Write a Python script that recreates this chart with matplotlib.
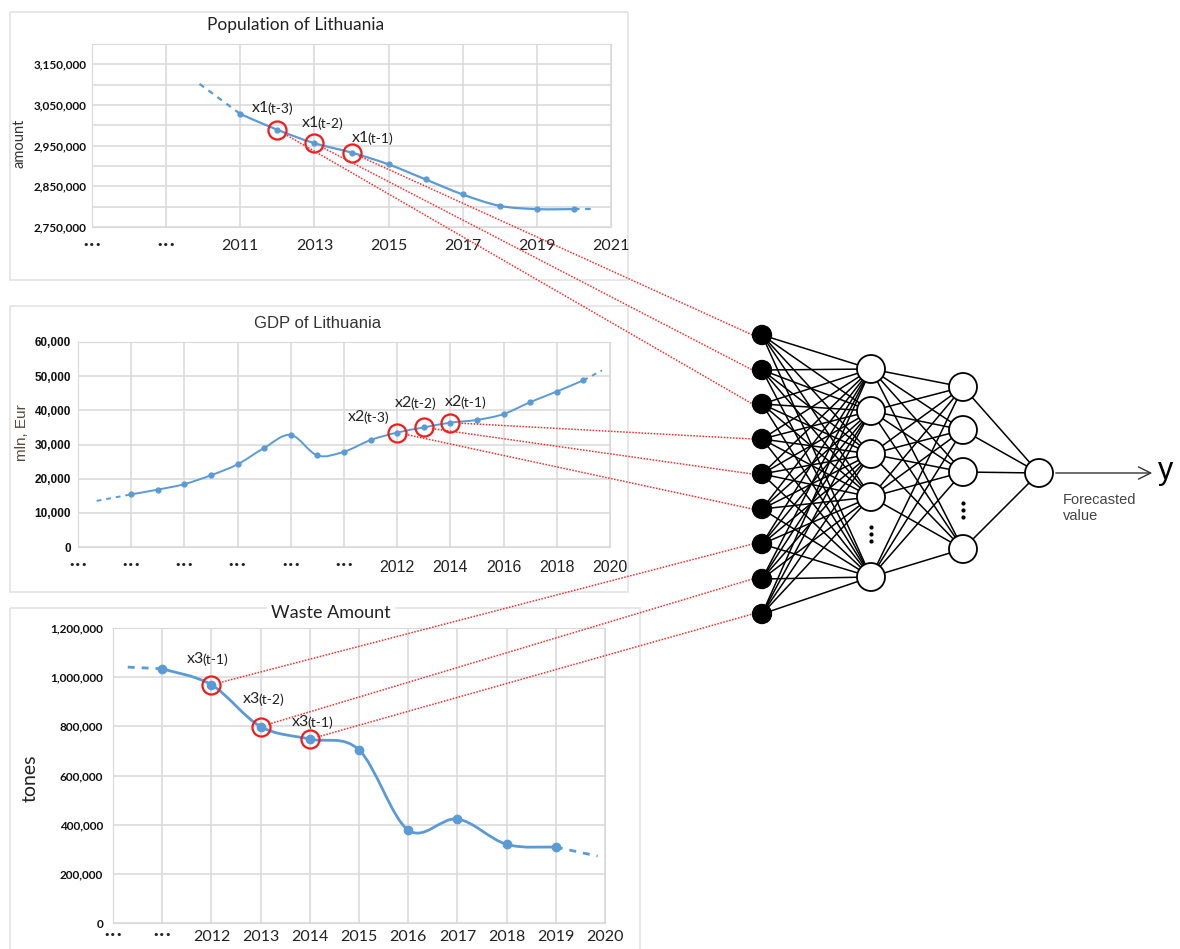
import numpy as np
import matplotlib
matplotlib.use("Agg")
import matplotlib.pyplot as plt
from matplotlib.path import Path
from matplotlib.patches import PathPatch, Circle, Rectangle

W, H = 1180, 949
BLUE = "#5b9bd5"
GRID = "#d9d9d9"

# ---- data ----
pop_years = [2011, 2012, 2013, 2014, 2015, 2016, 2017, 2018, 2019, 2020]
pop_vals = [3028000, 2989000, 2956000, 2933000, 2904000, 2867000, 2830000, 2802000, 2794000, 2794000]
pop_head = (2009.9, 3102000)
pop_tail = (2020.6, 2794000)

gdp_years = list(range(2002, 2020))
gdp_vals = [15400, 16800, 18400, 21000, 24200, 29000, 32800, 26800, 27900, 31300,
            33500, 35000, 36400, 37200, 38900, 42400, 45500, 48800]
gdp_head = (2000.7, 13500)
gdp_tail = (2019.7, 51700)

waste_years = [2011, 2012, 2013, 2014, 2015, 2016, 2017, 2018, 2019]
waste_vals = [1034000, 969000, 799000, 748000, 704000, 378000, 423000, 320000, 309000]
waste_head = (2010.3, 1041000)
waste_tail = (2019.85, 272000)

# circled lags: (year, name, lag, input node index)
pop_marks = [(2012, "x1", "(t-3)", 2), (2013, "x1", "(t-2)", 1), (2014, "x1", "(t-1)", 0)]
gdp_marks = [(2012, "x2", "(t-3)", 5), (2013, "x2", "(t-2)", 4), (2014, "x2", "(t-1)", 3)]
waste_marks = [(2012, "x3", "(t-1)", 6), (2013, "x3", "(t-2)", 7), (2014, "x3", "(t-1)", 8)]

DOTS = "•••"


def smooth_path(xs, ys):
    # catmull-rom through the points, drawn as bezier segments
    verts = [(xs[0], ys[0])]
    codes = [Path.MOVETO]
    n = len(xs)
    for i in range(n - 1):
        a = max(i - 1, 0)
        d = min(i + 2, n - 1)
        c1 = (xs[i] + (xs[i + 1] - xs[a]) / 6, ys[i] + (ys[i + 1] - ys[a]) / 6)
        c2 = (xs[i + 1] - (xs[d] - xs[i]) / 6, ys[i + 1] - (ys[d] - ys[i]) / 6)
        verts += [c1, c2, (xs[i + 1], ys[i + 1])]
        codes += [Path.CURVE4] * 3
    return Path(verts, codes)


fig = plt.figure(figsize=(W / 100, H / 100), dpi=100)
bg = fig.add_axes([0, 0, 1, 1], zorder=0)
bg.set_xlim(0, W); bg.set_ylim(H, 0); bg.set_axis_off()
ov = fig.add_axes([0, 0, 1, 1], zorder=5)
ov.set_xlim(0, W); ov.set_ylim(H, 0); ov.set_axis_off()

# panel frames
for (l, t, r, b) in [(10, 12, 628, 280), (10, 306, 628, 592), (10, 608, 640, 960)]:
    bg.add_patch(Rectangle((l, t), r - l, b - t, fill=False, ec="#e3e3e3", lw=1.2))


def chart(px, xlim, ylim, years, vals, head, tail, xt, xtl, yt, ygrid, lw, ms,
          xpad, ypad, font):
    l, t, r, b = px
    ax = fig.add_axes([l / W, 1 - b / H, (r - l) / W, (b - t) / H], zorder=1)
    ax.set_xlim(*xlim); ax.set_ylim(*ylim)
    for s in ax.spines.values():
        s.set_color(GRID)
    for g in ygrid:
        ax.axhline(g, color=GRID, lw=1.1, zorder=0)
    for x in xt:
        ax.axvline(x, color=GRID, lw=1.1, zorder=0)
    ax.set_xticks(xt)
    ax.set_xticklabels(xtl, fontsize=11.5, color="#222", family=font)
    for tl in ax.get_xticklabels():
        if tl.get_text() == DOTS:
            tl.set_fontsize(8)
            tl.set_family("DejaVu Sans")
    ax.set_yticks(yt)
    ax.set_yticklabels([f"{v:,}" for v in yt], fontsize=8.5, fontweight="bold",
                       color="#111", family=font)
    ax.tick_params(length=0)
    ax.tick_params(axis="x", pad=xpad)
    ax.tick_params(axis="y", pad=ypad)
    ax.add_patch(PathPatch(smooth_path(years, vals), fill=False, ec=BLUE, lw=lw, zorder=3))
    ax.plot([head[0], years[0]], [head[1], vals[0]], color=BLUE, lw=lw, ls=(0, (2.5, 2.5)), zorder=3)
    ax.plot([years[-1], tail[0]], [vals[-1], tail[1]], color=BLUE, lw=lw, ls=(0, (2.5, 2.5)), zorder=3)
    ax.plot(years, vals, "o", color=BLUE, ms=ms, zorder=4)
    return ax


pop_ax = chart((92, 44, 611, 227), (2007, 2021), (2750000, 3200000), pop_years, pop_vals,
               pop_head, pop_tail, list(range(2007, 2022, 2)),
               [DOTS, DOTS, "2011", "2013", "2015", "2017", "2019", "2021"],
               list(range(2750000, 3200001, 100000)), list(range(2750000, 3200001, 50000)),
               1.6, 3.5, 9, 4, "Lato")
gdp_ax = chart((78, 342, 610, 547), (2000, 2020), (0, 60000), gdp_years, gdp_vals,
               gdp_head, gdp_tail, list(range(2000, 2021, 2)),
               [DOTS] * 6 + ["2012", "2014", "2016", "2018", "2020"],
               list(range(0, 60001, 10000)), list(range(0, 60001, 10000)),
               1.4, 3.5, 9, 5, "Liberation Sans")
waste_ax = chart((113, 628, 605, 923), (2010, 2020), (0, 1200000), waste_years, waste_vals,
                 waste_head, waste_tail, list(range(2010, 2021)),
                 [DOTS, DOTS, "2012", "2013", "2014", "2015", "2016", "2017", "2018", "2019", "2020"],
                 list(range(0, 1200001, 200000)), list(range(0, 1200001, 200000)),
                 2.0, 6, 5, 7, "Lato")

# titles and axis names (pixel layout)
ov.text(296, 25, "Population of Lithuania", ha="center", va="center", fontsize=12.5,
        family="Lato", color="#222")
ov.text(318, 323, "GDP of Lithuania", ha="center", va="center", fontsize=12,
        family="Liberation Sans", color="#333")
ov.text(331, 613, "Waste Amount", ha="center", va="center", fontsize=13, family="Lato",
        color="#222", bbox=dict(fc="white", ec="none", pad=3))
ov.text(19, 143, "amount", rotation=90, ha="center", va="center", fontsize=10.5, family="Lato", color="#333")
ov.text(22, 433, "mln, Eur", rotation=90, ha="center", va="center", fontsize=11,
        family="Liberation Sans", color="#5a4a3a")
ov.text(30, 778, "tones", rotation=90, ha="center", va="center", fontsize=14, family="Lato", color="#222")

# network layout (pixels)
in_x, h1_x, h2_x, out_x = 762, 871, 963, 1039
in_y = [335, 370, 404, 439, 474, 509, 544, 579, 614]
h1_y = [369, 411, 454, 497, 577]
h2_y = [387, 430, 472, 549]
out_y = 473

for y0 in in_y:
    for y1 in h1_y:
        ov.plot([in_x, h1_x], [y0, y1], color="black", lw=1.1, zorder=1)
for y0 in h1_y:
    for y1 in h2_y:
        ov.plot([h1_x, h2_x], [y0, y1], color="black", lw=1.1, zorder=1)
for y0 in h2_y:
    ov.plot([h2_x, out_x], [y0, out_y], color="black", lw=1.1, zorder=1)
for y in in_y:
    ov.add_patch(Circle((in_x, y), 9.5, fc="black", ec="black", zorder=3))
for y in h1_y:
    ov.add_patch(Circle((h1_x, y), 14, fc="white", ec="black", lw=1.3, zorder=3))
for y in h2_y:
    ov.add_patch(Circle((h2_x, y), 14, fc="white", ec="black", lw=1.3, zorder=3))
ov.add_patch(Circle((out_x, out_y), 14, fc="white", ec="black", lw=1.3, zorder=3))
ov.plot([h1_x] * 3, [527, 534, 541], "o", color="black", ms=2, zorder=3)
ov.plot([h2_x] * 3, [503, 510, 517], "o", color="black", ms=2, zorder=3)
ov.annotate("", xy=(1155, out_y), xytext=(out_x + 14, out_y),
            arrowprops=dict(arrowstyle="->", lw=1.0, color="#333", mutation_scale=22))
ov.text(1158, out_y - 2, "y", ha="left", va="center", fontsize=22, family="Liberation Sans")
ov.text(1063, 508, "Forecasted\nvalue", ha="left", va="center", fontsize=10.5,
        family="Liberation Sans", color="#444", linespacing=1.25)

# lag labels, circles and red links
label_pos = {("x1", 2012): (252, 108), ("x1", 2013): (302, 123), ("x1", 2014): (352, 138),
             ("x2", 2012): (348, 417), ("x2", 2013): (395, 403), ("x2", 2014): (445, 402),
             ("x3", 2012): (187, 659), ("x3", 2013): (243, 699), ("x3", 2014): (292, 722)}


def to_px(ax, x, y):
    return ov.transData.inverted().transform(ax.transData.transform((x, y)))


for ax, years, vals, marks in [(pop_ax, pop_years, pop_vals, pop_marks),
                               (gdp_ax, gdp_years, gdp_vals, gdp_marks),
                               (waste_ax, waste_years, waste_vals, waste_marks)]:
    for year, name, lag, node in marks:
        v = vals[years.index(year)]
        ax.plot([year], [v], "o", ms=13, mfc="none", mec="#ee1c1c", mew=1.6, zorder=6, clip_on=False)
        px, py = to_px(ax, year, v)
        ex, ey = in_x - 9.5, in_y[node]
        d = np.hypot(ex - px, ey - py)
        sx, sy = px + (ex - px) / d * 8, py + (ey - py) / d * 8
        ov.plot([sx, ex], [sy, ey], color="#ff2a2a", lw=1.1, ls=(0, (1, 1)), zorder=2)
        lx, ly = label_pos[(name, year)]
        t1 = ov.text(lx, ly, name, ha="left", va="center", fontsize=11.5, family="Lato", color="#222")
        ov.annotate(lag, xy=(1, 0), xycoords=t1, xytext=(-1.5, 0), textcoords="offset points",
                    ha="left", va="bottom", fontsize=10, family="Lato", color="#222")

fig.savefig("out.png", dpi=100)
